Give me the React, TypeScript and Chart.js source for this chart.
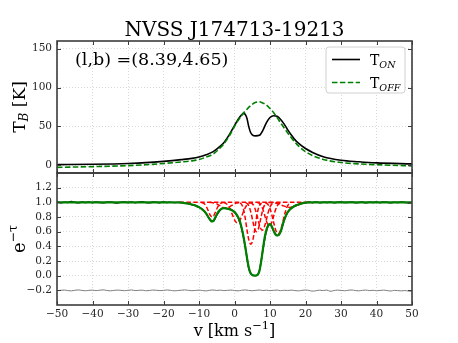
import React, { useEffect, useRef } from "react";
import { Chart, registerables } from "chart.js";

Chart.register(...registerables);

// ---------- text ----------
const TITLE = "NVSS J174713-19213";
const COORD_LABEL = "(l,b) =(8.39,4.65)";

// ---------- ticks ----------
const X_TICKS = [-50, -40, -30, -20, -10, 0, 10, 20, 30, 40, 50];
const TB_TICKS = [0, 50, 100, 150];
const TAU_TICKS = [-0.2, 0, 0.2, 0.4, 0.6, 0.8, 1.0, 1.2];

// ---------- top panel: brightness temperature ----------
const V_TOP = [-50, -40, -30, -25, -20, -15, -12, -10, -8, -6, -4, -3, -2, -1, 0, 1, 2, 2.5, 3, 3.5, 4, 4.5, 5, 6, 7, 8, 9, 10, 11, 12, 13, 14, 15, 16, 17, 18, 20, 22, 25, 30, 35, 40, 50];
const T_ON = [0.8, 1.3, 2.3, 3.3, 5.0, 7.2, 8.8, 10.6, 13.5, 17.5, 24.5, 29, 35.5, 43, 51, 59, 64.8, 66.8, 65.8, 60.5, 50, 42.5, 39.2, 37.8, 38.5, 45, 55, 61.5, 63.8, 63, 59, 53, 45.5, 39, 33, 28.5, 21.5, 16.5, 11, 6.5, 4.5, 3, 1.7];
const T_OFF = [-2.8, -1.8, -0.5, 0.6, 2.3, 4.2, 5.6, 7.3, 10.5, 14.5, 22.5, 27.5, 34, 41.5, 50, 57.5, 64, 67, 69.5, 72, 74.5, 76.5, 78.5, 81, 81.7, 80, 77.5, 73, 68, 61.5, 54.5, 48, 41.5, 35.5, 30, 25, 17.5, 12.5, 7.5, 3.5, 1.8, 0.7, -0.8];

// ---------- bottom panel: absorption ----------
const V_FIT = [-50, -20, -16, -15, -14, -13, -12, -11, -10, -9, -8, -7.5, -7, -6.5, -6, -5.5, -5, -4.5, -4, -3, -2, -1, 0, 0.5, 1, 1.5, 2, 2.5, 3, 3.5, 4, 4.5, 5, 5.5, 6, 6.5, 7, 7.5, 8, 8.5, 9, 9.5, 10, 10.5, 11, 11.5, 12, 12.5, 13, 13.5, 14, 14.5, 15, 16, 17, 18, 19, 20, 21, 50];
const EMT_FIT = [1.0, 1.0, 0.998, 0.995, 0.99, 0.982, 0.97, 0.955, 0.935, 0.9, 0.85, 0.81, 0.77, 0.74, 0.745, 0.785, 0.835, 0.875, 0.9, 0.92, 0.915, 0.9, 0.87, 0.84, 0.8, 0.745, 0.655, 0.54, 0.4, 0.25, 0.115, 0.035, 0.008, 0.002, 0.002, 0.012, 0.06, 0.19, 0.36, 0.52, 0.625, 0.685, 0.705, 0.675, 0.615, 0.565, 0.548, 0.555, 0.6, 0.68, 0.76, 0.82, 0.865, 0.92, 0.95, 0.97, 0.985, 0.995, 1.0, 1.0];

// channel velocities of the observed spectrum (1 km/s channels)
const V_CHAN = Array.from({ length: 101 }, (_, i) => i - 50);
const EMT_OBS = [
  1.005, 0.995, 1.002, 0.998, 1.01, 1.0, 0.993, 1.004, 0.997, 1.003,
  0.996, 1.006, 0.999, 0.994, 1.002, 1.004, 0.997, 0.992, 1.001, 1.005,
  0.998, 1.003, 0.996, 1.002, 1.007, 0.999, 0.995, 1.003, 1.0, 0.996,
  1.004, 0.998, 1.002, 0.997, 1.001, 0.997, 0.988, 0.983, 0.968, 0.958,
  0.932, 0.903, 0.846, 0.772, 0.742, 0.825, 0.897, 0.925, 0.912, 0.903,
  0.866, 0.795, 0.648, 0.405, 0.105, 0.012, 0.0, 0.065, 0.352, 0.615,
  0.698, 0.612, 0.548, 0.603, 0.758, 0.868, 0.918, 0.953, 0.968, 0.988,
  0.993, 1.003, 0.996, 1.004, 0.995, 1.002, 0.998, 1.006, 0.994, 1.001,
  1.003, 0.997, 1.0, 1.005, 0.996, 0.999, 1.004, 0.993, 1.002, 0.998,
  1.003, 0.996, 1.005, 1.0, 0.995, 1.002, 0.997, 1.004, 0.999, 0.992,
  0.996,
];
const EMT_RESID = [
  -0.205, -0.2, -0.196, -0.203, -0.208, -0.199, -0.194, -0.201, -0.206, -0.2,
  -0.197, -0.204, -0.198, -0.193, -0.202, -0.207, -0.201, -0.196, -0.2, -0.205,
  -0.199, -0.195, -0.203, -0.2, -0.197, -0.206, -0.202, -0.196, -0.199, -0.204,
  -0.201, -0.195, -0.2, -0.207, -0.203, -0.198, -0.194, -0.2, -0.205, -0.201,
  -0.197, -0.203, -0.208, -0.199, -0.195, -0.202, -0.197, -0.204, -0.2, -0.196,
  -0.203, -0.207, -0.199, -0.194, -0.201, -0.206, -0.2, -0.195, -0.203, -0.198,
  -0.204, -0.2, -0.196, -0.205, -0.199, -0.202, -0.197, -0.203, -0.208, -0.2,
  -0.195, -0.201, -0.212, -0.205, -0.198, -0.203, -0.196, -0.214, -0.203, -0.197,
  -0.201, -0.206, -0.199, -0.195, -0.203, -0.207, -0.2, -0.196, -0.204, -0.199,
  -0.206, -0.201, -0.197, -0.203, -0.21, -0.2, -0.204, -0.208, -0.203, -0.21,
  -0.213,
];

// individual Gaussian components (exp(-tau_i))
const COMP_BASE_V = [-15.5, 20.5];
const COMP_BASE = [1.0, 1.0];
const COMP1_V = [-9.3, -8.8, -8.3, -7.8, -7.3, -6.8, -6.3, -5.8, -5.3, -4.8, -4.3, -3.8, -3.3];
const COMP1 = [0.997, 0.99, 0.97, 0.93, 0.874, 0.821, 0.8, 0.821, 0.874, 0.93, 0.97, 0.99, 0.997];
const COMP2_V = [-7.0, -6.25, -5.5, -4.75, -4.0, -3.25, -2.5, -1.75, -1.0, -0.25, 0.5, 1.25, 2.0];
const COMP2 = [0.999, 0.996, 0.989, 0.973, 0.951, 0.929, 0.92, 0.929, 0.951, 0.973, 0.989, 0.996, 0.999];
const COMP3_V = [-3.1, -2.45, -1.8, -1.15, -0.5, 0.15, 0.8, 1.45, 2.1, 2.75, 3.4, 4.05, 4.7];
const COMP3 = [0.996, 0.986, 0.957, 0.899, 0.819, 0.748, 0.72, 0.748, 0.819, 0.899, 0.957, 0.986, 0.996];
const COMP4_V = [1.6, 2.1, 2.6, 3.1, 3.6, 4.1, 4.6, 5.1, 5.6, 6.1, 6.6, 7.1, 7.6];
const COMP4 = [0.991, 0.964, 0.892, 0.76, 0.599, 0.475, 0.43, 0.475, 0.599, 0.76, 0.892, 0.964, 0.991];
const COMP5_V = [3.2, 3.7, 4.2, 4.7, 5.2, 5.7, 6.2, 6.7, 7.2, 7.7, 8.2, 8.7, 9.2];
const COMP5 = [0.994, 0.978, 0.933, 0.847, 0.733, 0.637, 0.6, 0.637, 0.733, 0.847, 0.933, 0.978, 0.994];
const COMP6_V = [4.5, 5.05, 5.6, 6.15, 6.7, 7.25, 7.8, 8.35, 8.9, 9.45, 10.0, 10.55, 11.1];
const COMP6 = [0.995, 0.979, 0.937, 0.856, 0.748, 0.656, 0.62, 0.656, 0.748, 0.856, 0.937, 0.979, 0.995];
const COMP7_V = [6.5, 7.05, 7.6, 8.15, 8.7, 9.25, 9.8, 10.35, 10.9, 11.45, 12.0, 12.55, 13.1];
const COMP7 = [0.996, 0.983, 0.949, 0.882, 0.791, 0.712, 0.68, 0.712, 0.791, 0.882, 0.949, 0.983, 0.996];
const COMP8_V = [8.7, 9.3, 9.9, 10.5, 11.1, 11.7, 12.3, 12.9, 13.5, 14.1, 14.7, 15.3, 15.9];
const COMP8 = [0.994, 0.976, 0.927, 0.833, 0.711, 0.609, 0.57, 0.609, 0.711, 0.833, 0.927, 0.976, 0.994];
const COMP9_V = [9.5, 10.5, 11.5, 12.5, 13.5, 14.5, 15.5, 16.5, 17.5, 18.5, 19.5, 20.5, 21.5];
const COMP9 = [0.999, 0.997, 0.99, 0.977, 0.957, 0.938, 0.93, 0.938, 0.957, 0.977, 0.99, 0.997, 0.999];

const COMPONENTS: [number[], number[]][] = [
  [COMP_BASE_V, COMP_BASE],
  [COMP1_V, COMP1],
  [COMP2_V, COMP2],
  [COMP3_V, COMP3],
  [COMP4_V, COMP4],
  [COMP5_V, COMP5],
  [COMP6_V, COMP6],
  [COMP7_V, COMP7],
  [COMP8_V, COMP8],
  [COMP9_V, COMP9],
];

// ---------- styling ----------
const SERIF = '"DejaVu Serif", "Liberation Serif", serif';
const GREEN = "#008000";
const RED = "#ff0000";
const GRID = "#cfcfcf";
const SPINE = "#3c3c3c";
const TICK_COLOR = "#262626";
const DASH = [5.5, 2.4];

const pts = (xs: number[], ys: number[]) => xs.map((x, i) => ({ x, y: ys[i] }));
const minus = (s: string) => s.replace("-", "\u2212");
const fmtInt = (v: any) => minus(String(Math.round(Number(v))));
const fmtOne = (v: any) => minus(Number(v).toFixed(1));

type Part = { text: string; font: string; dy?: number };
function drawRich(ctx: CanvasRenderingContext2D, parts: Part[], x: number, y: number, align: "left" | "center") {
  const widths = parts.map((p) => {
    ctx.font = p.font;
    return ctx.measureText(p.text).width;
  });
  const total = widths.reduce((a, b) => a + b, 0);
  let cx = align === "center" ? x - total / 2 : x;
  parts.forEach((p, i) => {
    ctx.font = p.font;
    ctx.fillText(p.text, cx, y + (p.dy || 0));
    cx += widths[i];
  });
}

const decor = {
  id: "decor",
  afterDraw(chart: any) {
    const ctx: CanvasRenderingContext2D = chart.ctx;
    const xs = chart.scales.x;
    const yT = chart.scales.yT;
    const yB = chart.scales.yB;
    const L = xs.left;
    const R = xs.right;
    ctx.save();

    // inward ticks
    ctx.strokeStyle = SPINE;
    ctx.lineWidth = 1;
    ctx.setLineDash([]);
    const TL = 4;
    ctx.beginPath();
    X_TICKS.forEach((v) => {
      const px = Math.round(xs.getPixelForValue(v)) + 0.5;
      [yT, yB].forEach((s) => {
        ctx.moveTo(px, s.top);
        ctx.lineTo(px, s.top + TL);
        ctx.moveTo(px, s.bottom);
        ctx.lineTo(px, s.bottom - TL);
      });
    });
    TB_TICKS.forEach((v) => {
      const py = Math.round(yT.getPixelForValue(v)) + 0.5;
      ctx.moveTo(L, py);
      ctx.lineTo(L + TL, py);
      ctx.moveTo(R, py);
      ctx.lineTo(R - TL, py);
    });
    TAU_TICKS.forEach((v) => {
      const py = Math.round(yB.getPixelForValue(v)) + 0.5;
      ctx.moveTo(L, py);
      ctx.lineTo(L + TL, py);
      ctx.moveTo(R, py);
      ctx.lineTo(R - TL, py);
    });
    ctx.stroke();

    // panel frames
    ctx.lineWidth = 1.6;
    ctx.strokeStyle = SPINE;
    ctx.strokeRect(L, yT.top, R - L, yT.bottom - yT.top);
    ctx.strokeRect(L, yB.top, R - L, yB.bottom - yB.top);

    // title
    ctx.fillStyle = "#000";
    ctx.textBaseline = "alphabetic";
    ctx.textAlign = "left";
    drawRich(ctx, [{ text: TITLE, font: `20px ${SERIF}` }], (L + R) / 2, 35.5, "center");

    // coordinates annotation
    drawRich(ctx, [{ text: COORD_LABEL, font: `17.5px ${SERIF}` }], L + 18, 65, "left");

    // x axis title
    drawRich(
      ctx,
      [
        { text: "v [km s", font: `16px ${SERIF}` },
        { text: "\u22121", font: `11.5px ${SERIF}`, dy: -7 },
        { text: "]", font: `16px ${SERIF}` },
      ],
      (L + R) / 2,
      336,
      "center"
    );

    // y axis titles (rotated)
    ctx.save();
    ctx.translate(24.5, (yT.top + yT.bottom) / 2);
    ctx.rotate(-Math.PI / 2);
    drawRich(
      ctx,
      [
        { text: "T", font: `17px ${SERIF}` },
        { text: "B", font: `italic 12px ${SERIF}`, dy: 3 },
        { text: " [K]", font: `17px ${SERIF}` },
      ],
      0,
      0,
      "center"
    );
    ctx.restore();

    ctx.save();
    ctx.translate(24.5, (yB.top + yB.bottom) / 2);
    ctx.rotate(-Math.PI / 2);
    drawRich(
      ctx,
      [
        { text: "e", font: `18px ${SERIF}` },
        { text: "\u2212\u03c4", font: `12.5px ${SERIF}`, dy: -8 },
      ],
      0,
      0,
      "center"
    );
    ctx.restore();

    // legend
    const bx = 326, by = 47, bw = 79, bh = 46, r = 3;
    ctx.beginPath();
    ctx.moveTo(bx + r, by);
    ctx.lineTo(bx + bw - r, by);
    ctx.arcTo(bx + bw, by, bx + bw, by + r, r);
    ctx.lineTo(bx + bw, by + bh - r);
    ctx.arcTo(bx + bw, by + bh, bx + bw - r, by + bh, r);
    ctx.lineTo(bx + r, by + bh);
    ctx.arcTo(bx, by + bh, bx, by + bh - r, r);
    ctx.lineTo(bx, by + r);
    ctx.arcTo(bx, by, bx + r, by, r);
    ctx.closePath();
    ctx.fillStyle = "rgba(255,255,255,0.85)";
    ctx.fill();
    ctx.strokeStyle = "#d0d0d0";
    ctx.lineWidth = 1;
    ctx.stroke();

    ctx.lineWidth = 1.6;
    ctx.strokeStyle = "#000";
    ctx.beginPath();
    ctx.moveTo(332, 59.5);
    ctx.lineTo(360, 59.5);
    ctx.stroke();
    ctx.strokeStyle = GREEN;
    ctx.setLineDash(DASH);
    ctx.beginPath();
    ctx.moveTo(332, 82.5);
    ctx.lineTo(360, 82.5);
    ctx.stroke();
    ctx.setLineDash([]);

    ctx.fillStyle = "#000";
    drawRich(
      ctx,
      [
        { text: "T", font: `14px ${SERIF}` },
        { text: "ON", font: `italic 9.5px ${SERIF}`, dy: 2.5 },
      ],
      370,
      65,
      "left"
    );
    drawRich(
      ctx,
      [
        { text: "T", font: `14px ${SERIF}` },
        { text: "OFF", font: `italic 9.5px ${SERIF}`, dy: 2.5 },
      ],
      370,
      88,
      "left"
    );

    ctx.restore();
  },
};

export default function App() {
  const ref = useRef<HTMLCanvasElement>(null);

  useEffect(() => {
    const canvas = ref.current;
    if (!canvas) return;

    const tickFont = { family: SERIF, size: 10.5 };

    const datasets: any[] = [
      {
        label: "T_OFF",
        data: pts(V_TOP, T_OFF),
        yAxisID: "yT",
        borderColor: GREEN,
        borderWidth: 1.6,
        borderDash: DASH,
        order: 0,
      },
      {
        label: "T_ON",
        data: pts(V_TOP, T_ON),
        yAxisID: "yT",
        borderColor: "#000",
        borderWidth: 1.6,
        order: 1,
      },
      {
        label: "fit",
        data: pts(V_FIT, EMT_FIT),
        yAxisID: "yB",
        borderColor: GREEN,
        borderWidth: 2.2,
        order: 2,
      },
      ...COMPONENTS.map(([vx, vy], i) => ({
        label: "comp" + i,
        data: pts(vx, vy),
        yAxisID: "yB",
        borderColor: RED,
        borderWidth: 1.5,
        borderDash: [4.5, 2.4],
        order: 3,
      })),
      {
        label: "obs",
        data: pts(V_CHAN, EMT_OBS),
        yAxisID: "yB",
        borderColor: "#000",
        borderWidth: 1.5,
        order: 4,
      },
      {
        label: "resid",
        data: pts(V_CHAN, EMT_RESID),
        yAxisID: "yB",
        borderColor: "#808080",
        borderWidth: 1,
        order: 5,
      },
    ];

    const yCommon = {
      type: "linear",
      position: "left",
      stack: "panels",
      stackWeight: 1,
      offset: false,
      grid: { color: GRID, lineWidth: 0.8, drawTicks: false },
      border: { display: false, dash: [1, 2] },
      afterFit: (s: any) => {
        s.width = 57;
      },
    };

    const chart = new Chart(canvas, {
      type: "line",
      data: { datasets },
      options: {
        animation: false,
        responsive: false,
        devicePixelRatio: 1,
        parsing: true,
        layout: { padding: { top: 41, right: 46, bottom: 0, left: 0 } },
        elements: {
          point: { radius: 0, hoverRadius: 0 },
          line: { cubicInterpolationMode: "monotone", fill: false, borderCapStyle: "butt", borderJoinStyle: "round" },
        },
        plugins: {
          legend: { display: false },
          tooltip: { enabled: false },
          title: { display: false },
        },
        events: [],
        scales: {
          x: {
            type: "linear",
            min: -50,
            max: 50,
            grid: { color: GRID, lineWidth: 0.8, drawTicks: false },
            border: { display: false, dash: [1, 2] },
            afterBuildTicks: (s: any) => {
              s.ticks = X_TICKS.map((v) => ({ value: v }));
            },
            afterFit: (s: any) => {
              s.height = 38;
            },
            ticks: {
              callback: fmtInt,
              font: tickFont,
              color: TICK_COLOR,
              padding: 3,
              maxRotation: 0,
              autoSkip: false,
            },
          },
          yB: {
            ...yCommon,
            weight: 1,
            min: -0.4,
            max: 1.4,
            afterBuildTicks: (s: any) => {
              s.ticks = TAU_TICKS.map((v) => ({ value: v }));
            },
            ticks: { callback: fmtOne, font: tickFont, color: TICK_COLOR, padding: 5, autoSkip: false },
          },
          yT: {
            ...yCommon,
            weight: 2,
            min: -10,
            max: 160,
            afterBuildTicks: (s: any) => {
              s.ticks = TB_TICKS.map((v) => ({ value: v }));
            },
            ticks: { callback: fmtInt, font: tickFont, color: TICK_COLOR, padding: 5, autoSkip: false },
          },
        },
      } as any,
      plugins: [decor],
    });

    return () => chart.destroy();
  }, []);

  return (
    <div style={{ position: "absolute", left: 0, top: 0, width: 458, height: 343, background: "#fff" }}>
      <canvas ref={ref} width={458} height={343} style={{ display: "block", width: 458, height: 343 }} />
    </div>
  );
}
